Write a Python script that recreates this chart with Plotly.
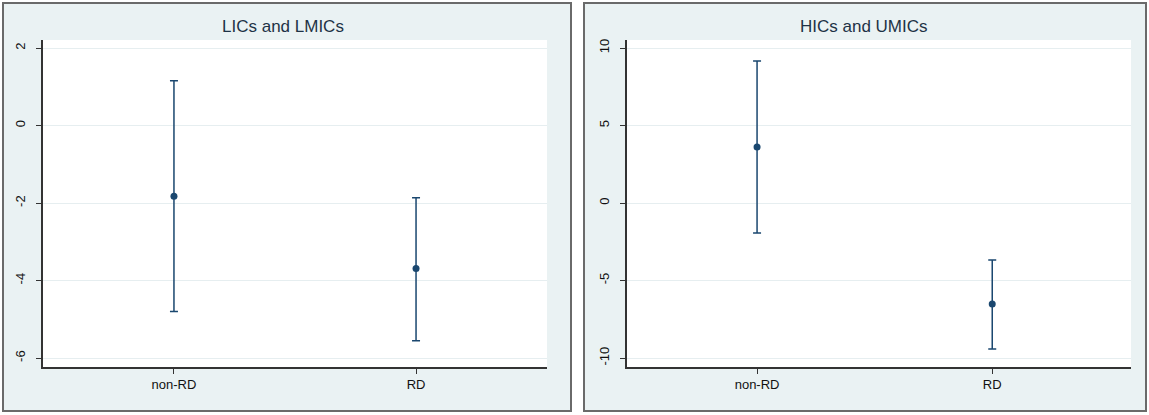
import plotly.graph_objects as go

categories = ["non-RD", "RD"]
cat_pos = [1, 2]

# LICs and LMICs
left_est = [-1.82, -3.69]
left_hi = [1.16, -1.86]
left_lo = [-4.80, -5.55]

# HICs and UMICs
right_est = [3.61, -6.52]
right_hi = [9.16, -3.68]
right_lo = [-1.94, -9.42]

left_ticks = [-6, -4, -2, 0, 2]
right_ticks = [-10, -5, 0, 5, 10]
titles = ["LICs and LMICs", "HICs and UMICs"]

W, H = 1149, 415
NAVY = "#1a476f"
PANEL = "#eaf2f3"

def px(x):
    return x / W

def py(y):
    return (H - y) / H

fig = go.Figure()

def add_series(est, hi, lo, xa, ya):
    fig.add_trace(go.Scatter(
        x=cat_pos, y=est, mode="markers", xaxis=xa, yaxis=ya,
        marker=dict(color=NAVY, size=7, symbol="circle"),
        error_y=dict(type="data", symmetric=False,
                     array=[h - e for h, e in zip(hi, est)],
                     arrayminus=[e - l for e, l in zip(est, lo)],
                     color=NAVY, thickness=1.5, width=4),
        showlegend=False, hoverinfo="skip"))

add_series(left_est, left_hi, left_lo, "x", "y")
add_series(right_est, right_hi, right_lo, "x2", "y2")

font = dict(family="Liberation Sans, Arial, sans-serif", size=13, color="#111111")

xcommon = dict(tickmode="array", tickvals=cat_pos, ticktext=categories,
               showgrid=False, zeroline=False, showline=True, linecolor="#333333",
               linewidth=1.5, ticks="outside", ticklen=5, tickcolor="#333333",
               tickfont=font, fixedrange=True)
ycommon = dict(tickmode="array", showgrid=True, gridcolor="#e6eef0", gridwidth=1,
               zeroline=False, showline=True, linecolor="#333333", linewidth=1.5,
               ticks="outside", ticklen=5, tickcolor="#333333", tickangle=-90,
               ticklabelstandoff=6, tickfont=font, fixedrange=True)

top, bottom = 40, 367
fig.update_layout(
    width=W, height=H, margin=dict(l=0, r=0, t=0, b=0),
    paper_bgcolor="white", plot_bgcolor="rgba(0,0,0,0)",
    xaxis=dict(domain=[px(43), px(547)], range=[0.459, 2.541], anchor="y", **xcommon),
    yaxis=dict(domain=[py(bottom), py(top)], range=[-6.23, 2.21], anchor="x",
               tickvals=left_ticks, ticktext=[str(t) for t in left_ticks], **ycommon),
    xaxis2=dict(domain=[px(627), px(1131)], range=[0.447, 2.59], anchor="y2", **xcommon),
    yaxis2=dict(domain=[py(bottom), py(top)], range=[-10.58, 10.52], anchor="x2",
                tickvals=right_ticks, ticktext=[str(t) for t in right_ticks], **ycommon),
)

shapes = []
for (x0, x1), (ax0, ax1) in [((3, 571), (43, 547)), ((584, 1146), (627, 1131))]:
    shapes.append(dict(type="rect", xref="paper", yref="paper",
                       x0=px(x0), x1=px(x1), y0=py(411), y1=py(3),
                       fillcolor=PANEL, line=dict(color="#6a6a6a", width=2), layer="below"))
    shapes.append(dict(type="rect", xref="paper", yref="paper",
                       x0=px(ax0), x1=px(ax1), y0=py(bottom), y1=py(top),
                       fillcolor="white", line=dict(width=0), layer="below"))
fig.update_layout(shapes=shapes)

for t, cx in zip(titles, [283, 864]):
    fig.add_annotation(text=t, x=px(cx), y=py(26), xref="paper", yref="paper",
                       showarrow=False, xanchor="center", yanchor="middle",
                       font=dict(family="Liberation Sans, Arial, sans-serif", size=17,
                                 color="#1e3246"))

fig.write_html("out.html", config={"displayModeBar": False},
               post_script="document.body.style.margin='0';document.body.style.overflow='hidden';")
